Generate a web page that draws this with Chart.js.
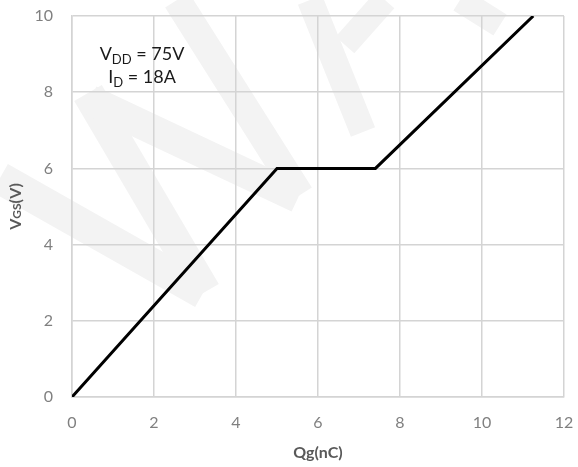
<!DOCTYPE html>
<html>
<head>
<meta charset="utf-8">
<script src="https://cdn.jsdelivr.net/npm/chart.js@4/dist/chart.umd.min.js"></script>
<style>
    html, body { margin: 0; padding: 0; background: #fff; }
    #wrap { width: 578px; height: 467px; position: relative; }
</style>
</head>
<body>
<div id="wrap"><canvas id="gateChart"></canvas></div>
<script>
// ===== Données =====
const qgValues = [0, 5, 7.4, 11.25];     // Qg (nC)
const vgsValues = [0, 6, 6, 10];         // VGS (V)
const xTicks = [0, 2, 4, 6, 8, 10, 12];
const yTicks = [0, 2, 4, 6, 8, 10];
const conditionLines = [
    { main: "V", sub: "DD", rest: " = 75V" },
    { main: "I", sub: "D", rest: " = 18A" }
];

const points = qgValues.map((q, i) => ({ x: q, y: vgsValues[i] }));
const gridColor = "#d4d4d4";
const tickColor = "#808080";

// Filigrane très pâle en arrière-plan
const watermark = {
    id: "watermark",
    beforeDraw(chart) {
        const ctx = chart.ctx;
        ctx.save();
        ctx.strokeStyle = "#f3f3f3";
        ctx.lineCap = "butt";
        const strokes = [
            [[0, 178], [203, 293], 32],
            [[88, 93], [205, 292], 32],
            [[90, 100], [298, 198], 30],
            [[177, 0], [300, 195], 28],
            [[310, 0], [363, 132], 26],
            [[345, 45], [385, 0], 25],
            [[460, 0], [500, 25], 25]
        ];
        strokes.forEach(s => {
            ctx.lineWidth = s[2];
            ctx.beginPath();
            ctx.moveTo(s[0][0], s[0][1]);
            ctx.lineTo(s[1][0], s[1][1]);
            ctx.stroke();
        });
        ctx.restore();
    }
};

// Titres d'axes et conditions de test
const labels = {
    id: "labels",
    afterDraw(chart) {
        const ctx = chart.ctx;
        const area = chart.chartArea;
        ctx.save();

        // Titre axe X
        ctx.fillStyle = "#595959";
        ctx.font = "bold 16px Lato";
        ctx.textAlign = "center";
        ctx.textBaseline = "middle";
        ctx.fillText("Qg(nC)", (area.left + area.right) / 2, 453);

        // Titre axe Y (GS plus petit)
        ctx.translate(15, (area.top + area.bottom) / 2);
        ctx.rotate(-Math.PI / 2);
        const parts = [["V", "bold 16px Lato"], ["GS", "bold 12px Lato"], ["(V)", "bold 16px Lato"]];
        let total = 0;
        parts.forEach(p => { ctx.font = p[1]; total += ctx.measureText(p[0]).width; });
        let x = -total / 2;
        ctx.textAlign = "left";
        ctx.textBaseline = "alphabetic";
        parts.forEach(p => {
            ctx.font = p[1];
            ctx.fillText(p[0], x, 6);
            x += ctx.measureText(p[0]).width;
        });
        ctx.restore();

        // Conditions
        ctx.save();
        ctx.fillStyle = "#1a1a1a";
        ctx.textBaseline = "alphabetic";
        ctx.textAlign = "left";
        const baselines = [60, 83];
        conditionLines.forEach((line, i) => {
            ctx.font = "18px Lato";
            const wMain = ctx.measureText(line.main).width;
            const wRest = ctx.measureText(line.rest).width;
            ctx.font = "13px Lato";
            const wSub = ctx.measureText(line.sub).width;
            let cx = 142 - (wMain + wSub + wRest) / 2;
            ctx.font = "18px Lato";
            ctx.fillText(line.main, cx, baselines[i]);
            cx += wMain;
            ctx.font = "13px Lato";
            ctx.fillText(line.sub, cx, baselines[i] + 4);
            cx += wSub;
            ctx.font = "18px Lato";
            ctx.fillText(line.rest, cx, baselines[i]);
        });
        ctx.restore();
    }
};

new Chart(document.getElementById("gateChart"), {
    type: "line",
    data: {
        datasets: [{
            data: points,
            borderColor: "#000",
            borderWidth: 3,
            pointRadius: 0,
            tension: 0,
            fill: false
        }]
    },
    options: {
        responsive: true,
        maintainAspectRatio: false,
        animation: false,
        layout: { padding: { top: 16, right: 14, left: 0, bottom: 0 } },
        plugins: {
            legend: { display: false },
            tooltip: { enabled: false }
        },
        scales: {
            x: {
                type: "linear",
                min: 0,
                max: 12,
                afterBuildTicks: axis => { axis.ticks = xTicks.map(v => ({ value: v })); },
                afterFit: axis => {
                    axis.height = 70;
                    axis.paddingLeft = 0;
                    axis.paddingRight = 0;
                },
                grid: { color: gridColor, lineWidth: 1.5, drawTicks: false },
                border: { color: gridColor, width: 1.5 },
                ticks: { color: tickColor, font: { family: "Lato", size: 16 }, padding: 16, maxRotation: 0 }
            },
            y: {
                type: "linear",
                min: 0,
                max: 10,
                afterBuildTicks: axis => { axis.ticks = yTicks.map(v => ({ value: v })); },
                afterFit: axis => {
                    axis.width = 72;
                    axis.paddingTop = 0;
                    axis.paddingBottom = 0;
                },
                grid: { color: gridColor, lineWidth: 1.5, drawTicks: false },
                border: { color: gridColor, width: 1.5 },
                ticks: { color: tickColor, font: { family: "Lato", size: 16 }, padding: 19 }
            }
        }
    },
    plugins: [watermark, labels]
});
</script>
</body>
</html>
